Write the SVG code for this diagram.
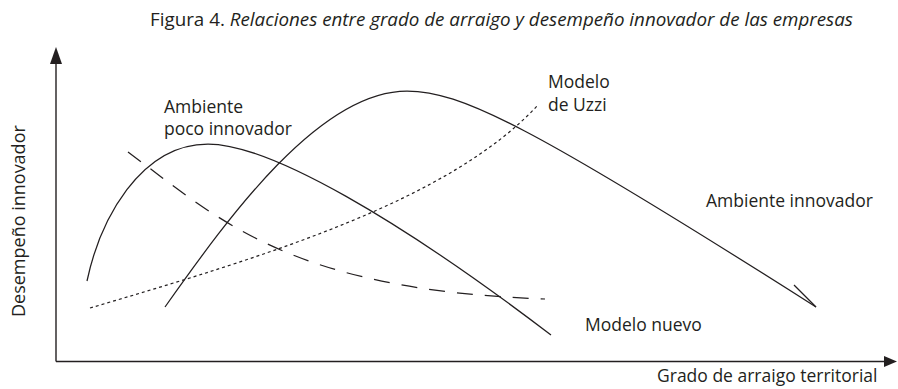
<svg xmlns="http://www.w3.org/2000/svg" width="898" height="389" viewBox="0 0 898 389">
<style>
text{font-family:"Open Sans","Liberation Sans",sans-serif;font-size:17.5px;fill:#231f20}
.title{font-size:18.8px}
.it{font-style:italic}
.axis{stroke:#231f20;stroke-width:1.4;fill:none}
.curve{stroke:#231f20;stroke-width:1.25;fill:none}
.dash{stroke:#231f20;stroke-width:1.25;fill:none;stroke-dasharray:16 12}
.dot{stroke:#231f20;stroke-width:1.2;fill:none;stroke-dasharray:3 3}
.head{fill:#231f20;stroke:none}
</style>
<g id="title"><text class="title" x="150" y="26">Figura 4. <tspan class="it">Relaciones entre grado de arraigo y desempeño innovador de las empresas</tspan></text></g>
<g id="axes">
<line class="axis" x1="56" y1="60" x2="56" y2="361.5"/>
<polygon class="head" points="56,47 50,64 62,64"/>
<line class="axis" x1="56" y1="361.5" x2="886" y2="361.5"/>
<polygon class="head" points="897,361.5 884,356 884,367"/>
</g>
<g id="y-label"><text transform="translate(25,317) rotate(-90)" x="0" y="0" style="font-size:18px">Desempeño innovador</text></g>
<g id="x-label"><text x="657" y="382">Grado de arraigo territorial</text></g>
<g id="connectors">
<path id="poco-innovador" class="curve" d="M87,281 C100,220 140,144 208,144 C270,144 400,220 551,335"/>
<path id="innovador" class="curve" d="M165,307 C230,215 320,91 407,91 C460,91 530,125 816,307"/>
<line class="curve" x1="794" y1="285" x2="816" y2="307"/>
<path id="uzzi" class="dot" d="M90,308 C270,255 450,200 538,105"/>
<path id="nuevo" class="dash" d="M128,152 C220,220 290,290 545,299"/>
</g>
<g id="label-poco"><text x="164" y="113">Ambiente</text><text x="164" y="135">poco innovador</text></g>
<g id="label-uzzi"><text x="548" y="88">Modelo</text><text x="548" y="111">de Uzzi</text></g>
<g id="label-innovador"><text x="706" y="207">Ambiente innovador</text></g>
<g id="label-nuevo"><text x="585" y="331">Modelo nuevo</text></g>
</svg>
